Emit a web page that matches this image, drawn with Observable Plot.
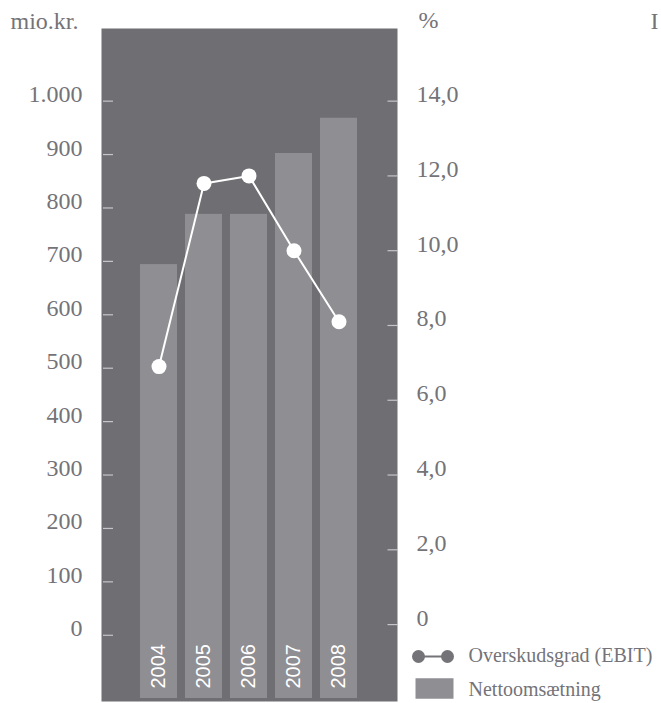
<!DOCTYPE html>
<html><head><meta charset="utf-8">
<script src="https://cdn.jsdelivr.net/npm/d3@7"></script>
<script src="https://cdn.jsdelivr.net/npm/@observablehq/plot@0.6"></script>
<style>html,body{margin:0;padding:0;background:#fff}</style>
</head><body><div id="chart"></div>
<script>
const years = ["2004", "2005", "2006", "2007", "2008"];
const revenue = [694, 788, 788, 902, 968];           // Nettoomsætning, mio.kr.
const ebitMargin = [6.9, 11.8, 12.0, 10.0, 8.1];     // Overskudsgrad (EBIT), %
const leftTicks = [0, 100, 200, 300, 400, 500, 600, 700, 800, 900, 1000];
const leftTickLabels = ["0", "100", "200", "300", "400", "500", "600", "700", "800", "900", "1.000"];
const rightTicks = [0, 2, 4, 6, 8, 10, 12, 14];
const rightTickLabels = ["0", "2,0", "4,0", "6,0", "8,0", "10,0", "12,0", "14,0"];
const leftTitle = "mio.kr.";
const rightTitle = "%";
const cornerMark = "I";
const legendLineLabel = "Overskudsgrad (EBIT)";
const legendBarLabel = "Nettoomsætning";

const panelColor = "#6f6e73";
const barColor = "#8f8e93";
const textColor = "#747378";
const tickColor = "#c6c6c9";

const data = years.map((year, i) => ({year, revenue: revenue[i], margin: ebitMargin[i]}));
// the % axis shares the plot height with the mio.kr. axis: 0 % sits at 20, 14 % at 1.000
const pct = d3.scaleLinear([0, 14], [20, 1000]);
const rightTickPos = rightTicks.map(pct);
const yDomain = [-124, 1136];
const lineShape = {draw(ctx, l) { ctx.moveTo(0, 0); ctx.lineTo(0, -l); }};

const chart = Plot.plot({
  width: 661,
  height: 703,
  marginLeft: 101,
  marginRight: 264,
  marginTop: 28,
  marginBottom: 2,
  style: {fontFamily: "'Liberation Serif', serif", fontSize: "24px", color: textColor, background: "#fff"},
  x: {type: "band", domain: years, paddingInner: 0.17, paddingOuter: 0.82, axis: null},
  y: {domain: yDomain},
  marks: [
    Plot.frame({fill: panelColor, stroke: "none"}),
    Plot.barY(data, {x: "year", y1: yDomain[0], y2: "revenue", fill: barColor, insetBottom: 3}),
    Plot.text(data, {x: "year", y: yDomain[0], text: "year", rotate: -90, textAnchor: "start", lineAnchor: "middle",
      dy: -13, fill: "#fff", fontFamily: "'Liberation Sans', Arial, sans-serif", fontSize: 20}),
    Plot.line(data, {x: "year", y: d => pct(d.margin), stroke: "#fff", strokeWidth: 2}),
    Plot.dot(data, {x: "year", y: d => pct(d.margin), r: 7.5, fill: "#fff", stroke: "none"}),
    // left axis: inward ticks, then labels
    Plot.axisY({anchor: "left", ticks: leftTicks, tickSize: -10, insetLeft: 2, stroke: tickColor, strokeWidth: 1.2,
      tickFormat: () => "", label: null}),
    Plot.axisY({anchor: "left", ticks: leftTicks, tickSize: 0, tickPadding: 19, lineAnchor: "bottom", dy: 1,
      tickFormat: d => leftTickLabels[leftTicks.indexOf(d)], fill: textColor, label: null}),
    // right axis
    Plot.axisY({anchor: "right", ticks: rightTickPos, tickSize: -10.5, stroke: tickColor, strokeWidth: 1.2,
      tickFormat: () => "", label: null}),
    Plot.axisY({anchor: "right", ticks: rightTickPos, tickSize: 0, tickPadding: 19, lineAnchor: "bottom", dy: 1,
      tickFormat: d => rightTickLabels[rightTickPos.indexOf(d)], fill: textColor, label: null}),
    // axis titles
    Plot.text([leftTitle], {frameAnchor: "top-left", dx: -91, dy: 0, textAnchor: "start", lineAnchor: "bottom", fill: textColor}),
    Plot.text([rightTitle], {frameAnchor: "top-right", dx: 21, dy: -1, textAnchor: "start", lineAnchor: "bottom", fill: textColor}),
    Plot.text([cornerMark], {frameAnchor: "top-right", dx: 253, dy: 0, textAnchor: "start", lineAnchor: "bottom", fill: textColor}),
    // legend
    Plot.vector([0], {frameAnchor: "bottom-right", dx: 21, dy: -45, length: 29, rotate: 90, anchor: "start",
      shape: lineShape, stroke: textColor, strokeWidth: 2}),
    Plot.dot([0], {frameAnchor: "bottom-right", dx: 21, dy: -45, r: 6.5, fill: textColor, stroke: "none"}),
    Plot.dot([0], {frameAnchor: "bottom-right", dx: 50, dy: -45, r: 6.5, fill: textColor, stroke: "none"}),
    Plot.vector([0], {frameAnchor: "bottom-right", dx: 18, dy: -13, length: 38, rotate: 90, anchor: "start",
      shape: lineShape, stroke: barColor, strokeWidth: 20.6, strokeLinecap: "butt"}),
    Plot.text([legendLineLabel], {frameAnchor: "bottom-right", dx: 71, dy: -39.5, textAnchor: "start", lineAnchor: "bottom",
      fill: textColor, fontSize: 20}),
    Plot.text([legendBarLabel], {frameAnchor: "bottom-right", dx: 71, dy: -6, textAnchor: "start", lineAnchor: "bottom",
      fill: textColor, fontSize: 20})
  ]
});
document.getElementById("chart").appendChild(chart);
</script>
</body></html>
